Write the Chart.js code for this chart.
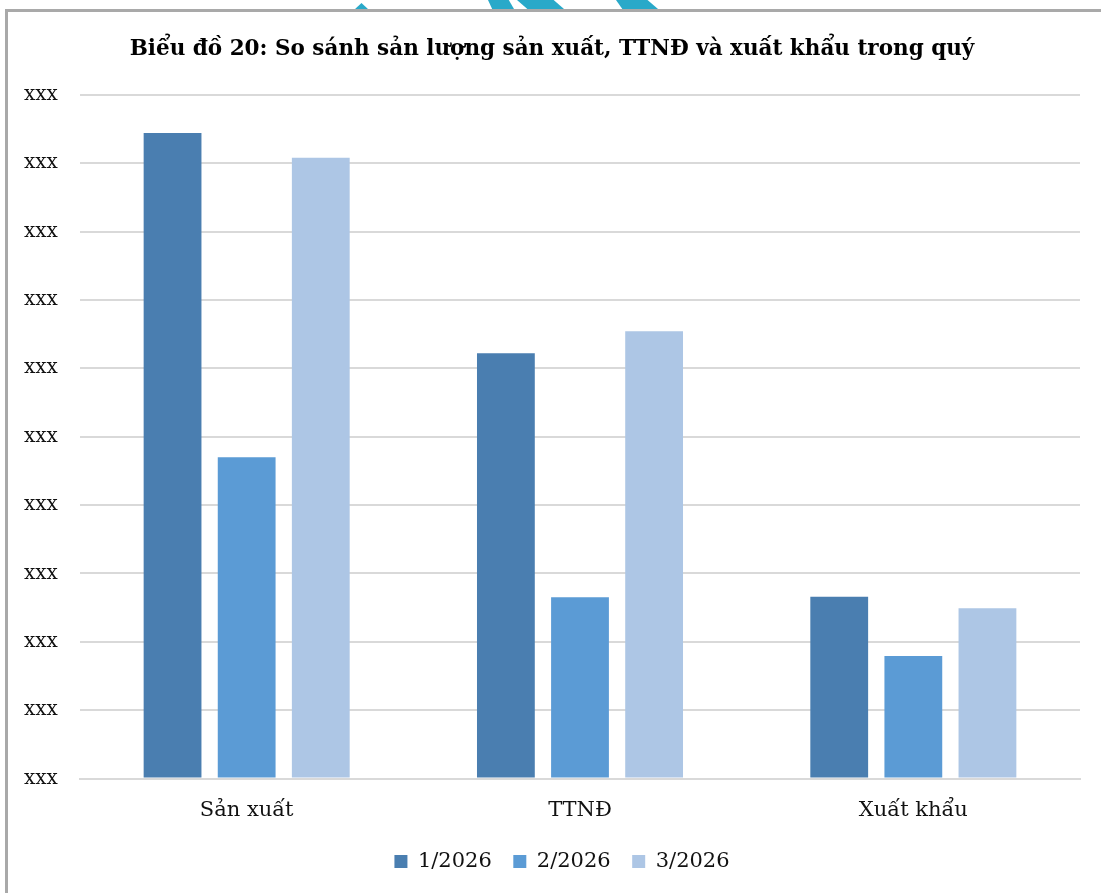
<!DOCTYPE html>
<html>
<head>
<meta charset="utf-8">
<script src="https://cdn.jsdelivr.net/npm/chart.js@4"></script>
<style>
  html, body { margin: 0; padding: 0; background: #fff; }
  #wrap { position: relative; width: 1101px; height: 893px; overflow: hidden; }
  #frame { position: absolute; left: 5px; top: 9px; width: 1200px; height: 1000px;
           border-left: 3px solid #a9a9a9; border-top: 3px solid #a9a9a9; pointer-events: none; }
  .deco { position: absolute; top: 0; height: 9px; background: #29a9c9; }
  canvas { position: absolute; left: 0; top: 0; }
</style>
</head>
<body>
<div id="wrap">
  <div class="deco" style="left:354px;width:15px;clip-path:polygon(50% 0,100% 100%,0 100%);top:3px;height:7px"></div>
  <div class="deco" style="left:488px;width:26px;clip-path:polygon(0 0,80% 0,100% 100%,16% 100%)"></div>
  <div class="deco" style="left:517px;width:47px;clip-path:polygon(0 0,78% 0,100% 100%,22% 100%)"></div>
  <div class="deco" style="left:616px;width:42px;clip-path:polygon(0 0,75% 0,100% 100%,15% 100%)"></div>
  <canvas id="myChart" width="1101" height="893"></canvas>
  <div id="frame"></div>
</div>
<script>
const categories = ['Sản xuất', 'TTNĐ', 'Xuất khẩu'];
const seriesNames = ['1/2026', '2/2026', '3/2026'];
const month1 = [9.44, 6.22, 2.66];
const month2 = [4.70, 2.65, 1.79];
const month3 = [9.08, 6.54, 2.49];
const tickLabel = 'xxx';

const color1 = '#4a7eb0';
const color2 = '#5b9bd5';
const color3 = '#adc6e5';

const serif = "'DejaVu Serif', 'Liberation Serif', serif";

const chartdata = {
    labels: categories,
    datasets: [
        { label: seriesNames[0], data: month1, backgroundColor: color1 },
        { label: seriesNames[1], data: month2, backgroundColor: color2 },
        { label: seriesNames[2], data: month3, backgroundColor: color3 }
    ]
};

// legend in the picture sits a bit right of centre
const legendShift = {
    id: 'legendShift',
    afterLayout: function (chart) {
        chart.legend.left += 10;
        chart.legend.right += 10;
    }
};

const config = {
    type: 'bar',
    data: chartdata,
    plugins: [legendShift],
    options: {
        responsive: false,
        animation: false,
        devicePixelRatio: 1,
        layout: { padding: { top: 37, left: 24, right: 21, bottom: 11 } },
        datasets: {
            bar: { categoryPercentage: 0.667, barPercentage: 0.78, borderWidth: 0 }
        },
        plugins: {
            title: {
                display: true,
                text: 'Biểu đồ 20: So sánh sản lượng sản xuất, TTNĐ và xuất khẩu trong quý',
                color: '#000',
                font: { family: serif, size: 21.5, weight: 'bold' },
                padding: { top: 0, bottom: 32 }
            },
            legend: {
                position: 'bottom',
                labels: {
                    color: '#111',
                    font: { family: serif, size: 21 },
                    boxWidth: 13,
                    boxHeight: 13,
                    padding: 21.5
                }
            },
            tooltip: { enabled: false }
        },
        scales: {
            x: {
                afterFit: function (scale) { scale.height = 51; },
                grid: { display: false, drawTicks: false },
                border: { color: '#d9d9d9', width: 2 },
                ticks: { color: '#111', font: { family: serif, size: 21 }, padding: 19 }
            },
            y: {
                min: 0,
                max: 10,
                afterFit: function (scale) { scale.width = 56; },
                grid: { color: '#d9d9d9', lineWidth: 2, drawTicks: false },
                border: { display: false },
                ticks: {
                    stepSize: 1,
                    crossAlign: 'far',
                    color: '#111',
                    font: { family: serif, size: 20 },
                    callback: function () { return tickLabel; }
                }
            }
        }
    }
};

const myChart = new Chart(document.getElementById('myChart'), config);
</script>
</body>
</html>
